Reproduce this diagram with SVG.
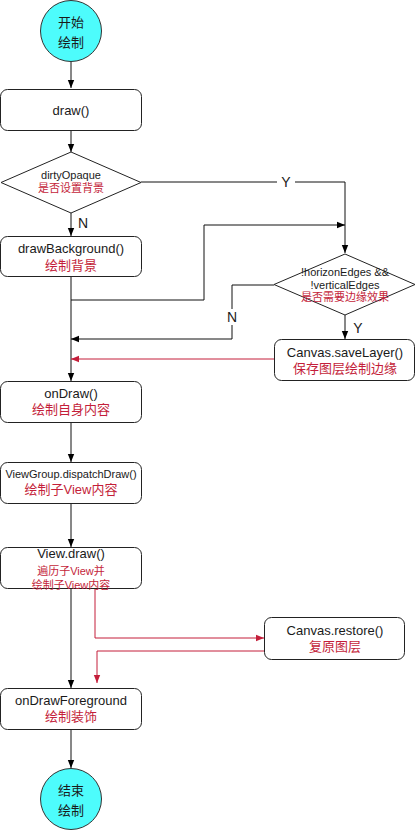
<svg xmlns="http://www.w3.org/2000/svg" width="416" height="831" viewBox="0 0 416 831">
<defs>
<marker id="ab" markerUnits="userSpaceOnUse" markerWidth="8" markerHeight="8" viewBox="0 0 8 8" refX="8" refY="4" orient="auto"><path d="M0,0.8 L8,4 L0,7.2 z" fill="#000"/></marker>
<marker id="ar" markerUnits="userSpaceOnUse" markerWidth="8" markerHeight="8" viewBox="0 0 8 8" refX="8" refY="4" orient="auto"><path d="M0,0.8 L8,4 L0,7.2 z" fill="#c41e3a"/></marker>
<style>
.box{fill:#fff;stroke:#222;stroke-width:1}
.circ{fill:#4dfcfc;stroke:#333;stroke-width:1}
text{font-family:"Liberation Sans","Noto Sans CJK SC",sans-serif;text-anchor:middle;fill:#1a1a1a}
.t{font-size:13px}
.s{font-size:11px}
.r{fill:#c41e3a}
.c{fill:none;stroke:#111;stroke-width:1}
.cr{fill:none;stroke:#c41e3a;stroke-width:1}
.lbl{font-size:14px}
</style>
</defs>
<g id="connectors">
<path class="c" d="M71,62 V88" marker-end="url(#ab)"/>
<path class="c" d="M71,130 V152" marker-end="url(#ab)"/>
<path class="c" d="M71,213 V236" marker-end="url(#ab)"/>
<path class="c" d="M141,182 H345 V253" marker-end="url(#ab)"/>
<path class="c" d="M71,276 V381" marker-end="url(#ab)"/>
<path class="c" d="M71,300 H204 V225 H345" marker-end="url(#ab)"/>
<path class="c" d="M274,285 H232 V339 H71" marker-end="url(#ab)"/>
<path class="c" d="M345,315 V339" marker-end="url(#ab)"/>
<path class="cr" d="M274,359 H71" marker-end="url(#ar)"/>
<path class="c" d="M71,422 V462" marker-end="url(#ab)"/>
<path class="c" d="M71,503 V547" marker-end="url(#ab)"/>
<path class="c" d="M71,588 V688" marker-end="url(#ab)"/>
<path class="cr" d="M95,588 V638 H264" marker-end="url(#ar)"/>
<path class="cr" d="M264,651 H97 V683" marker-end="url(#ar)"/>
<path class="c" d="M71,729 V768" marker-end="url(#ab)"/>
<rect x="277" y="174" width="18" height="16" fill="#fff"/>
<text class="lbl" x="286" y="187">Y</text>
<text class="lbl" x="83" y="228">N</text>
<rect x="225" y="309" width="14" height="16" fill="#fff"/>
<text class="lbl" x="232" y="322">N</text>
<text class="lbl" x="358" y="333">Y</text>
</g>
<g id="start">
<circle class="circ" cx="71" cy="31" r="30.5"/>
<text class="t" x="71" y="27">开始</text>
<text class="t" x="71" y="47">绘制</text>
</g>
<g id="draw">
<rect class="box" x="0.5" y="89.5" width="141" height="41" rx="7"/>
<text class="t" x="71" y="115">draw()</text>
</g>
<g id="dirtyOpaque">
<path class="box" d="M71,152 L141,182.5 L71,213 L1,182.5 z"/>
<text class="s" x="71" y="179">dirtyOpaque</text>
<text class="s r" x="71" y="192">是否设置背景</text>
</g>
<g id="drawBackground">
<rect class="box" x="0.5" y="236.5" width="141" height="40" rx="7"/>
<text class="t" x="71" y="253">drawBackground()</text>
<text class="t r" x="71" y="270">绘制背景</text>
</g>
<g id="edges">
<path class="box" d="M345,254 L415,284.5 L345,315 L274,284.5 z"/>
<text class="s" x="345" y="276">!horizonEdges &amp;&amp;</text>
<text class="s" x="345" y="289">!verticalEdges</text>
<text class="s r" x="345" y="301">是否需要边缘效果</text>
</g>
<g id="saveLayer">
<rect class="box" x="274.5" y="339.5" width="140" height="41" rx="7"/>
<text class="t" x="345" y="357">Canvas.saveLayer()</text>
<text class="t r" x="345" y="373">保存图层绘制边缘</text>
</g>
<g id="onDraw">
<rect class="box" x="0.5" y="381.5" width="141" height="41" rx="7"/>
<text class="t" x="71" y="398">onDraw()</text>
<text class="t r" x="71" y="414">绘制自身内容</text>
</g>
<g id="dispatchDraw">
<rect class="box" x="0.5" y="462.5" width="141" height="41" rx="7"/>
<text class="s" x="71" y="478">ViewGroup.dispatchDraw()</text>
<text class="t r" x="71" y="494">绘制子View内容</text>
</g>
<g id="viewDraw">
<rect class="box" x="0.5" y="547.5" width="141" height="41" rx="7"/>
<text class="t" x="71" y="558">View.draw()</text>
<text class="s r" x="71" y="575">遍历子View并</text>
<text class="s r" x="71" y="589">绘制子View内容</text>
</g>
<g id="restore">
<rect class="box" x="264.5" y="617.5" width="140" height="42" rx="7"/>
<text class="t" x="335" y="635">Canvas.restore()</text>
<text class="t r" x="335" y="651">复原图层</text>
</g>
<g id="onDrawForeground">
<rect class="box" x="0.5" y="688.5" width="141" height="41" rx="7"/>
<text class="t" x="71" y="705">onDrawForeground</text>
<text class="t r" x="71" y="721">绘制装饰</text>
</g>
<g id="end">
<circle class="circ" cx="71" cy="799" r="30.5"/>
<text class="t" x="71" y="795">结束</text>
<text class="t" x="71" y="815">绘制</text>
</g>
</svg>
